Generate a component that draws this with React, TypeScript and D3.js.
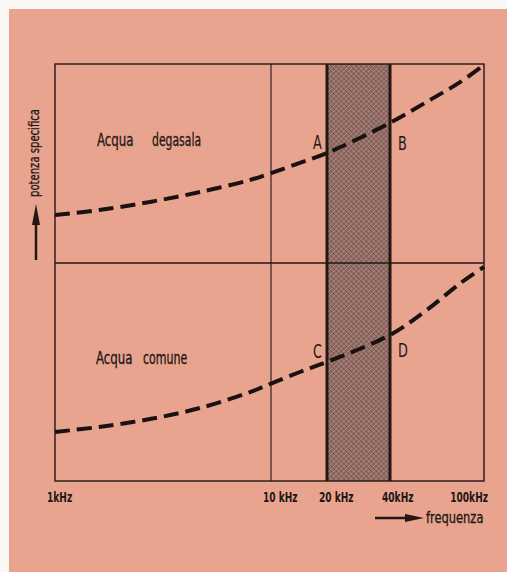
import React from 'react';
import * as d3 from 'd3';

// frequency axis (kHz)
const freqTicks = [1, 10, 20, 40, 100];
const tickLabels = ['1kHz', '10 kHz', '20 kHz', '40kHz', '100kHz'];
const bandRange = [20, 40];

// Acqua degasata (upper panel, relative specific power)
const degasFreq = [1, 1.6, 2.75, 4.7, 8, 10, 14.3, 20, 40, 59, 79.5, 100];
const degasPower = [0.241, 0.266, 0.307, 0.357, 0.417, 0.452, 0.503, 0.553, 0.704, 0.819, 0.91, 0.995];

// Acqua comune (lower panel)
const comuneFreq = [1, 1.6, 2.75, 4.7, 8, 10, 14.3, 20, 40, 57.2, 79.5, 100];
const comunePower = [0.225, 0.248, 0.284, 0.335, 0.408, 0.447, 0.5, 0.546, 0.67, 0.784, 0.908, 0.982];

const pointNames = ['A', 'B', 'C', 'D'];

const W = 507;
const H = 572;
const L = 55, R = 484, T = 64, B = 481, MID = 263;
const INK = '#221714';
const FONT = "'DejaVu Sans Condensed', 'Liberation Sans Narrow', 'DejaVu Sans', sans-serif";

export default function App() {
  // schematic (hand-drawn) log axis: piecewise in log10
  const x = d3.scaleLinear()
    .domain(freqTicks.map((f) => Math.log10(f)))
    .range([L, L + 216, L + 272, L + 335, R]);
  const xf = (f: number) => x(Math.log10(f));
  const yTop = d3.scaleLinear().domain([0, 1]).range([MID, T]);
  const yBot = d3.scaleLinear().domain([0, 1]).range([B, MID]);

  const line = (ys: d3.ScaleLinear<number, number>) =>
    d3.line<[number, number]>()
      .x((d) => xf(d[0]))
      .y((d) => ys(d[1]))
      .curve(d3.curveCatmullRom.alpha(0.5));

  const degasData = degasFreq.map((f, i) => [f, degasPower[i]] as [number, number]);
  const comuneData = comuneFreq.map((f, i) => [f, comunePower[i]] as [number, number]);

  const pIdx20d = degasFreq.indexOf(bandRange[0]);
  const pIdx40d = degasFreq.indexOf(bandRange[1]);
  const pIdx20c = comuneFreq.indexOf(bandRange[0]);
  const pIdx40c = comuneFreq.indexOf(bandRange[1]);

  const points = [
    { n: pointNames[0], x: xf(bandRange[0]) - 14, y: yTop(degasPower[pIdx20d]) - 4 },
    { n: pointNames[1], x: xf(bandRange[1]) + 8, y: yTop(degasPower[pIdx40d]) + 27 },
    { n: pointNames[2], x: xf(bandRange[0]) - 14, y: yBot(comunePower[pIdx20c]) - 4 },
    { n: pointNames[3], x: xf(bandRange[1]) + 8, y: yBot(comunePower[pIdx40c]) + 22 },
  ];

  const bx0 = xf(bandRange[0]);
  const bx1 = xf(bandRange[1]);

  return (
    <svg width={W} height={H} style={{ position: 'absolute', left: 0, top: 0, background: '#fbf7f5' }}>
      <defs>
        <pattern id="hatch" width="5" height="5" patternUnits="userSpaceOnUse">
          <rect width="5" height="5" fill="#8f6a63" />
          <path d="M0,5 L5,0 M-1,1 L1,-1 M4,6 L6,4" stroke="#b08a80" strokeWidth="1.1" />
          <path d="M0,0 L5,5" stroke="#765650" strokeWidth="0.9" />
        </pattern>
      </defs>
      <rect x={9} y={9} width={W - 9} height={H - 9} fill="#e9a48f" />

      {/* hatched band */}
      <rect x={bx0} y={T} width={bx1 - bx0} height={B - T} fill="url(#hatch)" />
      <line x1={bx0} x2={bx0} y1={T} y2={B} stroke={INK} strokeWidth={3} />
      <line x1={bx1} x2={bx1} y1={T} y2={B} stroke={INK} strokeWidth={3} />

      {/* frame */}
      <rect x={L} y={T} width={R - L} height={B - T} fill="none" stroke={INK} strokeWidth={1.4} />
      <line x1={L} x2={R} y1={MID} y2={MID} stroke={INK} strokeWidth={1.3} />
      <line x1={xf(10)} x2={xf(10)} y1={T} y2={B} stroke={INK} strokeWidth={1.1} />

      {/* curves */}
      <path d={line(yTop)(degasData) || ''} fill="none" stroke="#1a1210" strokeWidth={4} strokeDasharray="15 7" />
      <path d={line(yBot)(comuneData) || ''} fill="none" stroke="#1a1210" strokeWidth={4} strokeDasharray="15 7" />

      {/* point labels */}
      {points.map((p) => (
        <text key={p.n} fontFamily={FONT} fontSize={19} fill={INK}
          transform={`translate(${p.x},${p.y}) scale(0.75,1)`}>
          {p.n}
        </text>
      ))}

      {/* panel labels */}
      <g fontFamily={FONT} fontSize={17} fill={INK} stroke={INK} strokeWidth={0.3}>
        <text transform="translate(97,146) scale(0.77,1)">Acqua</text>
        <text transform="translate(152,146) scale(0.71,1)">degasala</text>
        <text transform="translate(96,364) scale(0.77,1)">Acqua</text>
        <text transform="translate(143,364) scale(0.72,1)">comune</text>
      </g>

      {/* x tick labels */}
      {freqTicks.map((f, i) => (
        <text key={f}
          transform={`translate(${i === freqTicks.length - 1 ? xf(f) + 4 : xf(f) - 8},502) scale(0.72,1)`}
          textAnchor={i === freqTicks.length - 1 ? 'end' : 'start'}
          fontFamily={FONT} fontSize={14} fontWeight="bold" fill={INK}>
          {tickLabels[i]}
        </text>
      ))}

      {/* x axis title with arrow */}
      <line x1={375} x2={408} y1={518} y2={518} stroke={INK} strokeWidth={2.5} />
      <path d="M405,514 L424,518 L405,522 Z" fill={INK} />
      <text transform="translate(426,523) scale(0.85,1)" fontFamily={FONT} fontSize={15} fill={INK} stroke={INK} strokeWidth={0.3}>frequenza</text>

      {/* y axis title with arrow */}
      <text transform="translate(39,153) rotate(-90) scale(0.8,1)" textAnchor="middle" fontFamily={FONT} fontSize={14} fill={INK} stroke={INK} strokeWidth={0.3}>
        potenza specifica
      </text>
      <line x1={36} x2={36} y1={260} y2={222} stroke={INK} strokeWidth={2.5} />
      <path d="M32,225 L36,204 L40,225 Z" fill={INK} />
    </svg>
  );
}
